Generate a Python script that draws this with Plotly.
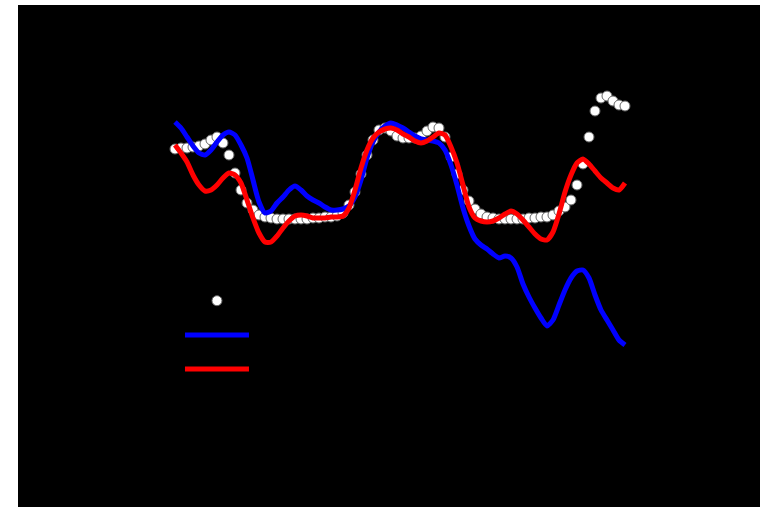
import plotly.graph_objects as go

# x positions (sample index)
x_idx = list(range(76))

observed = [71.6, 71.8, 71.8, 72.0, 72.2, 72.6, 73.4, 74.0, 72.8, 70.4,
            66.8, 63.4, 60.8, 59.4, 58.4, 58.0, 57.8, 57.6, 57.6, 57.6,
            57.6, 57.6, 57.6, 57.8, 57.8, 58.0, 58.0, 58.2, 58.8, 60.4,
            63.0, 66.6, 70.4, 73.4, 75.4, 75.8, 75.2, 74.2, 73.8, 73.8,
            73.8, 74.2, 75.2, 76.0, 75.8, 74.0, 70.0, 66.6, 63.4, 61.2,
            59.6, 58.6, 58.0, 57.8, 57.6, 57.6, 57.6, 57.6, 57.6, 57.8,
            57.8, 58.0, 58.0, 58.4, 59.2, 60.0, 61.4, 64.4, 68.6, 74.0,
            79.2, 81.8, 82.2, 81.2, 80.4, 80.2]

model_blue = [77.0, 75.8, 74.0, 72.2, 70.8, 70.4, 71.4, 73.0, 74.4, 75.0,
              74.4, 72.4, 69.8, 65.4, 61.0, 58.8, 59.2, 60.8, 62.0, 63.4,
              64.2, 63.4, 62.2, 61.4, 60.8, 60.0, 59.4, 59.4, 59.6, 60.2,
              62.0, 65.4, 69.8, 73.0, 75.0, 76.2, 76.8, 76.4, 75.8, 75.0,
              74.2, 73.6, 73.4, 73.2, 72.8, 71.4, 68.4, 64.4, 59.8, 56.2,
              53.6, 52.4, 51.6, 50.6, 49.8, 50.2, 49.8, 48.0, 44.6, 42.0,
              39.8, 37.8, 36.2, 37.4, 40.4, 43.4, 45.8, 47.2, 47.4, 45.8,
              42.4, 39.4, 37.4, 35.4, 33.4, 32.4]

model_red = [72.4, 70.8, 69.0, 66.4, 64.4, 63.2, 63.4, 64.4, 65.8, 66.8,
             66.4, 64.8, 61.4, 57.8, 54.8, 53.0, 53.0, 54.2, 55.8, 57.2,
             58.2, 58.4, 58.2, 57.8, 57.8, 57.8, 58.0, 58.0, 58.2, 59.8,
             63.4, 67.8, 71.4, 73.8, 75.0, 75.6, 75.8, 75.4, 74.6, 74.0,
             73.2, 72.8, 73.2, 74.0, 74.8, 74.4, 72.0, 68.8, 64.4, 60.0,
             57.8, 57.2, 57.0, 57.2, 57.8, 58.6, 59.2, 58.6, 57.4, 56.0,
             54.6, 53.6, 53.4, 55.0, 58.6, 63.0, 66.4, 68.8, 69.6, 68.6,
             67.2, 65.8, 64.8, 63.8, 63.4, 64.8]

series_names = ["Observed", "Model A", "Model B"]

fig = go.Figure()
fig.add_trace(go.Scatter(
    x=x_idx, y=observed, mode="markers", name=series_names[0],
    marker=dict(color="white", size=10, line=dict(color="#666666", width=1))))
fig.add_trace(go.Scatter(
    x=x_idx, y=model_blue, mode="lines", name=series_names[1],
    line=dict(color="#0000FF", width=5, shape="spline", smoothing=0.6)))
fig.add_trace(go.Scatter(
    x=x_idx, y=model_red, mode="lines", name=series_names[2],
    line=dict(color="#FF0000", width=5, shape="spline", smoothing=0.6)))

fig.update_layout(
    width=760, height=507,
    margin=dict(l=18, r=0, t=5, b=0),
    paper_bgcolor="white", plot_bgcolor="black",
    xaxis=dict(range=[-26.1667, 97.5], visible=False),
    yaxis=dict(range=[0, 100.4], visible=False),
    showlegend=True,
    legend=dict(x=0.2183, y=0.455, xanchor="left", yanchor="top",
                bgcolor="rgba(0,0,0,0)", font=dict(color="black", size=24),
                itemwidth=64),
)

fig.write_html("out.html", config={"displayModeBar": False},
               post_script="document.body.style.margin='0';document.body.style.overflow='hidden';")
